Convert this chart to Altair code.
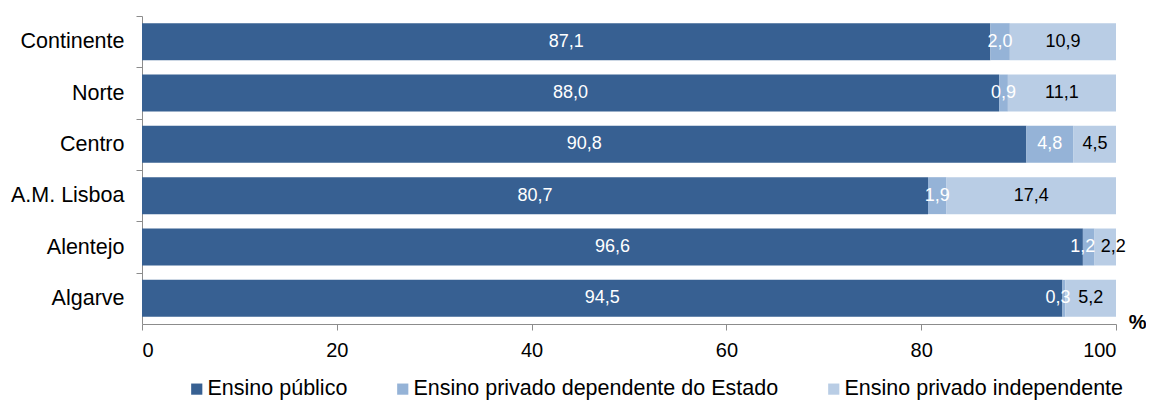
import altair as alt
import pandas as pd

regions = ["Continente", "Norte", "Centro", "A.M. Lisboa", "Alentejo", "Algarve"]
series = ["Ensino público", "Ensino privado dependente do Estado", "Ensino privado independente"]
publico = [87.1, 88.0, 90.8, 80.7, 96.6, 94.5]
dependente = [2.0, 0.9, 4.8, 1.9, 1.2, 0.3]
independente = [10.9, 11.1, 4.5, 17.4, 2.2, 5.2]
x_ticks = [0, 20, 40, 60, 80, 100]
colors = ["#376092", "#95B3D7", "#B9CDE5"]

rows = []
for i, r in enumerate(regions):
    for k, (s, vals) in enumerate(zip(series, [publico, dependente, independente])):
        rows.append({"regiao": r, "serie": s, "ordem": k, "valor": vals[i]})
df = pd.DataFrame(rows)

FONT = "Liberation Sans"

base = alt.Chart(df).transform_stack(
    stack="valor", groupby=["regiao"], as_=["x0", "x1"],
    sort=[alt.SortField("ordem", order="ascending")]
).transform_calculate(
    mid="(datum.x0 + datum.x1) / 2",
    largura="datum.x1 - datum.x0",
    rotulo="replace(format(datum.valor, '.1f'), '.', ',')"
)

yenc = alt.Y("regiao:N", sort=regions,
             scale=alt.Scale(paddingInner=0.28, paddingOuter=0.14),
             axis=alt.Axis(title=None, labelFont=FONT, labelFontSize=21.5, labelColor="#000000",
                           domainColor="#8C8C8C", tickColor="#8C8C8C", tickSize=6,
                           labelPadding=12, tickOffset=-25.67, labelOffset=25.67))

xscale = alt.Scale(domain=[0, 100], nice=False)

bars = base.mark_bar(clip=True).encode(
    x=alt.X("x0:Q", scale=xscale,
            axis=alt.Axis(values=x_ticks, title="%", labelFont=FONT, labelFontSize=20,
                          labelColor="#000000", domainColor="#8C8C8C", tickColor="#8C8C8C",
                          tickSize=6, labelPadding=10, grid=False,
                          titleFont=FONT, titleFontSize=20, titleFontWeight="bold",
                          titleColor="#000000", titleX=1004, titleY=-2,
                          titleBaseline="middle", titleAnchor="start", titleAlign="right")),
    x2="x1:Q",
    y=yenc,
    color=alt.Color("serie:N", sort=series,
                    scale=alt.Scale(domain=series, range=colors),
                    legend=alt.Legend(title=None, orient="none", direction="horizontal",
                                      legendX=44, legendY=362, symbolType="square",
                                      symbolSize=125, symbolStrokeWidth=0,
                                      symbolOpacity=1, labelFont=FONT, labelFontSize=21.5,
                                      labelColor="#000000", columnPadding=44,
                                      labelOffset=0, labelLimit=0)),
    order=alt.Order("ordem:Q"),
)

is_indep = f"datum.serie == '{series[2]}'"
narrow_indep = f"{is_indep} && datum.largura < 3"
narrow_dep = f"datum.serie == '{series[1]}' && datum.largura < 1.5 && datum.x1 > 94"


def text_layer(filter_expr, dx):
    return base.transform_filter(filter_expr).mark_text(
        font=FONT, fontSize=18, baseline="middle", align="center", dx=dx
    ).encode(
        x=alt.X("mid:Q", scale=xscale),
        y=alt.Y("regiao:N", sort=regions),
        text="rotulo:N",
        color=alt.condition(alt.datum.serie == series[2], alt.value("#000000"), alt.value("#FFFFFF")),
    )


labels_main = text_layer(f"!({narrow_indep}) && !({narrow_dep})", 0)
labels_right = text_layer(narrow_indep, 8)
labels_left = text_layer(narrow_dep, -6)

chart = alt.layer(bars, labels_main, labels_right, labels_left).properties(
    width=974, height=308,
    autosize=alt.AutoSizeParams(type="none"),
    padding={"left": 134, "top": 8, "right": 30, "bottom": 76},
).configure_view(stroke=None)

chart.save("out.html", embed_options={"renderer": "svg", "actions": False})
